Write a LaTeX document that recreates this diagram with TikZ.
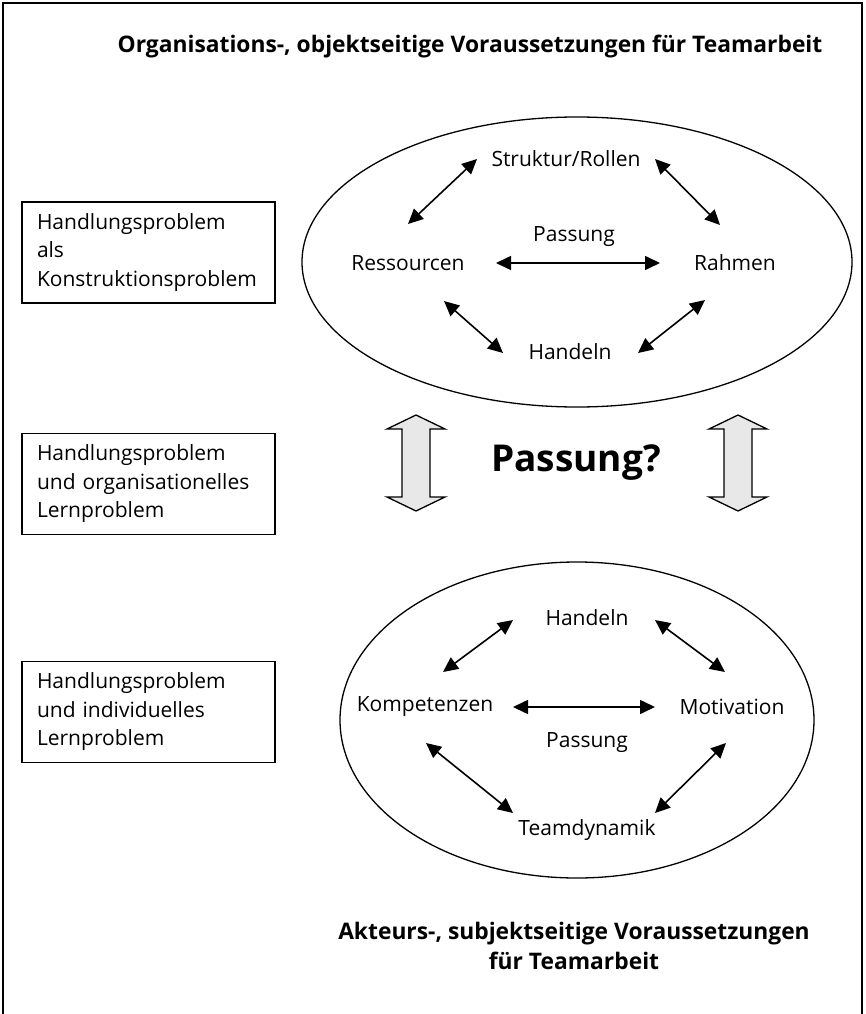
\documentclass[tikz,border=0pt]{standalone}
\usepackage{fontspec}
\setmainfont{Open Sans}
\usetikzlibrary{arrows.meta,calc}

\tikzset{
  x=1pt, y=-1pt,
  lbl/.style={font=\fontsize{21}{25}\selectfont, inner sep=0pt},
  heading/.style={font=\fontsize{22.8}{30}\selectfont\bfseries, inner sep=0pt, align=center},
  probbox/.style={draw, line width=1.3pt, minimum width=253pt, minimum height=101pt,
    text width=223pt, inner xsep=15pt, align=left, font=\fontsize{21}{28.5}\selectfont},
  link/.style={line width=1.6pt, {Triangle[length=15pt,width=14pt]}-{Triangle[length=15pt,width=14pt]}},
  ring/.style={line width=1.3pt},
  bigarrow/.style={draw, line width=1.3pt, fill=gray!18, line join=miter},
}

\begin{document}
\begin{tikzpicture}
\useasboundingbox (0,0) rectangle (865,1014);

% frame open at the bottom
\draw[line width=2pt] (3,1014) -- (3,3) -- (862,3) -- (862,1014);

% headings
\node[heading] (topTitle) at (470,47) {Organisations-, objektseitige Voraussetzungen für Teamarbeit};
\node[heading] (botTitle) at (574,946) {Akteurs-, subjektseitige Voraussetzungen\\für Teamarbeit};

% problem boxes on the left
\node[probbox] (box1) at (148.5,252.5) {Handlungsproblem\\als\\Konstruktionsproblem};
\node[probbox] (box2) at (148.5,484) {Handlungsproblem\\und organisationelles\\Lernproblem};
\node[probbox] (box3) at (148.5,712) {Handlungsproblem\\und individuelles\\Lernproblem};

% organisation side
\draw[ring] (577,262) ellipse [x radius=275pt, y radius=145pt];
\node[lbl] (struk) at (566,159) {Struktur/Rollen};
\node[lbl] (ress)  at (408,263) {Ressourcen};
\node[lbl] (rahm)  at (735,263) {Rahmen};
\node[lbl] (handO) at (570,352) {Handeln};
\node[lbl] (passO) at (574,237) {Passung};

\draw[link] ($(struk)+(-89,0)$) -- ($(ress)+(0,-39)$);
\draw[link] ($(struk)+(89,0)$) -- ($(rahm)+(-15,-38)$);
\draw[link] ($(ress)+(36,38)$) -- ($(handO)+(-67,1)$);
\draw[link] ($(handO)+(68,1)$) -- ($(rahm)+(-30,37)$);
\draw[link] ($(ress)+(88,0)$) -- ($(rahm)+(-75,0)$);

% fit between both sides
\node[font=\fontsize{37}{42}\selectfont\bfseries, inner sep=0pt] (fitQ) at (576,463) {Passung?};
\foreach \cx in {416,738} {
  \draw[bigarrow] (\cx,415) -- (\cx+29,429) -- (\cx+14,429) -- (\cx+14,497)
    -- (\cx+29,497) -- (\cx,511) -- (\cx-29,497) -- (\cx-14,497)
    -- (\cx-14,429) -- (\cx-29,429) -- cycle;
}

% actor side
\draw[ring] (577,720) ellipse [x radius=237pt, y radius=158pt];
\node[lbl] (handA) at (587,618) {Handeln};
\node[lbl] (komp)  at (425,707) {Kompetenzen};
\node[lbl] (motiv) at (732,707) {Motivation};
\node[lbl] (passA) at (587,743) {Passung};
\node[lbl] (team)  at (587,830) {Teamdynamik};

\draw[link] ($(handA)+(-74,2)$) -- ($(komp)+(18,-35)$);
\draw[link] ($(handA)+(68,2)$) -- ($(motiv)+(-7,-35)$);
\draw[link] ($(komp)+(88,0)$) -- ($(motiv)+(-77,0)$);
\draw[link] ($(komp)+(1,36)$) -- ($(team)+(-74,-17)$);
\draw[link] ($(motiv)+(-6,36)$) -- ($(team)+(68,-17)$);
\end{tikzpicture}
\end{document}
